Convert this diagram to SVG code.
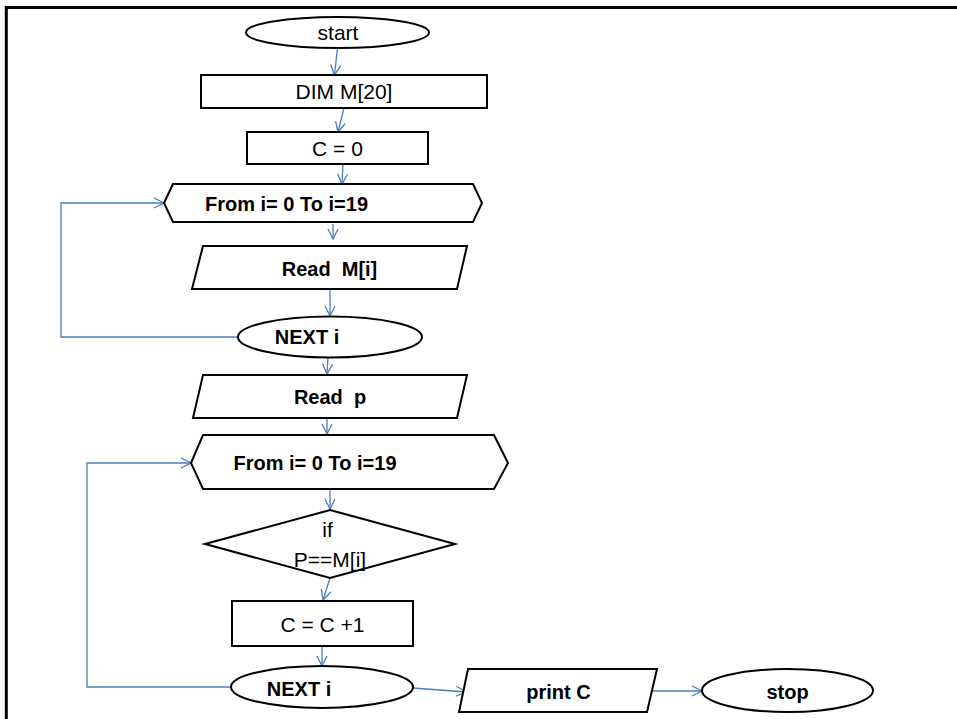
<svg xmlns="http://www.w3.org/2000/svg" width="957" height="719" viewBox="0 0 957 719">
<style>
.n{fill:#fff;stroke:#000;stroke-width:2}
.t{font-family:"Liberation Sans",Arial,sans-serif;font-size:21px;fill:#000;text-anchor:middle;white-space:pre}
.b{font-weight:bold;font-size:20px}
.c{fill:none;stroke:#4a7ebb;stroke-width:1.3;marker-end:url(#ah)}
</style>
<defs>
<marker id="ah" markerUnits="userSpaceOnUse" viewBox="0 0 12 12" refX="11" refY="6" markerWidth="12" markerHeight="12" orient="auto">
<path d="M1,1 L11,6 L1,11" fill="none" stroke="#4a7ebb" stroke-width="1.3"/>
</marker>
</defs>
<rect width="957" height="719" fill="#fff"/>
<path d="M6.3,719 V7.5 H957" fill="none" stroke="#000" stroke-width="3"/>
<g id="connectors">
<path class="c" d="M337.5,48 L334.5,75"/>
<path class="c" d="M344,108 L338,132"/>
<path class="c" d="M343,164 L342,184"/>
<path class="c" d="M333,224 L333,239"/>
<path class="c" d="M330,290 L330,316"/>
<path class="c" d="M238,337 H61 V203 H164"/>
<path class="c" d="M328,357 L327,374"/>
<path class="c" d="M327,419 L327,434"/>
<path class="c" d="M330,490 L330,509"/>
<path class="c" d="M231,687 H87 V463 H191"/>
<path class="c" d="M330,578 L323,600"/>
<path class="c" d="M322,647 L322,666"/>
<path class="c" d="M413,688 L466,692"/>
<path class="c" d="M653,691 L702,691"/>
</g>
<g id="start"><ellipse class="n" cx="337.5" cy="32.5" rx="91.5" ry="15.5"/><text class="t" x="338" y="40">start</text></g>
<g id="dim"><rect class="n" x="201" y="75" width="286" height="33"/><text class="t" x="344" y="99">DIM M[20]</text></g>
<g id="c0"><rect class="n" x="247" y="132" width="181" height="32"/><text class="t" x="337.5" y="156">C = 0</text></g>
<g id="for1"><polygon class="n" points="164,203 173,184 473,184 482,203 473,222 173,222"/><text class="t b" x="286.5" y="211">From i= 0 To i=19</text></g>
<g id="readM"><polygon class="n" points="203,246 467,246 457,289 192,289"/><text class="t b" x="329.5" y="276">Read  M[i]</text></g>
<g id="next1"><ellipse class="n" cx="330" cy="337" rx="92" ry="20.5"/><text class="t b" x="307" y="344">NEXT i</text></g>
<g id="readP"><polygon class="n" points="203,375 467,375 457,418 193,418"/><text class="t b" x="330" y="404">Read  p</text></g>
<g id="for2"><polygon class="n" points="191,463 203,435 494,435 508,463 494,489 203,489"/><text class="t b" x="315" y="470">From i= 0 To i=19</text></g>
<g id="if"><polygon class="n" points="330,510 455,544 330,578 205,544"/><text class="t" x="327.5" y="537">if</text><text class="t" x="330" y="567">P==M[i]</text></g>
<g id="inc"><rect class="n" x="232" y="601" width="181" height="45"/><text class="t" x="322.5" y="632">C = C +1</text></g>
<g id="next2"><ellipse class="n" cx="322" cy="687" rx="91" ry="21"/><text class="t b" x="299" y="696">NEXT i</text></g>
<g id="print"><polygon class="n" points="468,669 657,669 647,712 459,712"/><text class="t b" x="558.5" y="699">print C</text></g>
<g id="stop"><ellipse class="n" cx="787.5" cy="690.5" rx="85.5" ry="21.5"/><text class="t b" x="787.5" y="699">stop</text></g>
</svg>
